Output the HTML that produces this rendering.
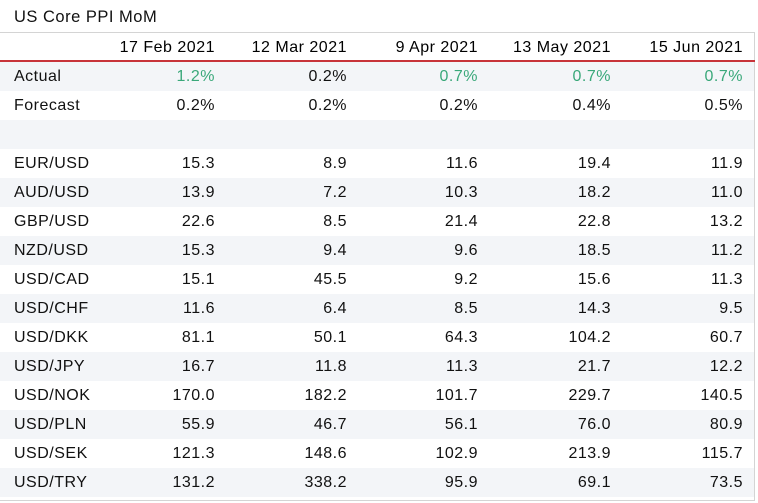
<!DOCTYPE html>
<html><head><meta charset="utf-8"><style>
body{margin:0;width:758px;height:503px;background:#fff;font-family:"Liberation Sans",sans-serif;color:#111;position:relative;overflow:hidden}
.t{position:absolute;font-size:16px;letter-spacing:0.5px;white-space:nowrap;line-height:29px}
.r{text-align:right}
</style></head><body>
<div class="t" style="left:14px;top:3px;font-size:16.5px">US Core PPI MoM</div>
<div style="position:absolute;left:0;top:32px;width:754px;height:467px;border:1px solid #d4d4d4;border-left:none"></div>
<div style="position:absolute;left:0;top:60px;width:755px;height:2px;background:#c8343a"></div>
<div id="tbl"></div>
<script>
const dates=["17 Feb 2021","12 Mar 2021","9 Apr 2021","13 May 2021","15 Jun 2021"];
const actual=["1.2%","0.2%","0.7%","0.7%","0.7%"];
const actualGreen=[true,false,true,true,true];
const forecast=["0.2%","0.2%","0.2%","0.4%","0.5%"];
const pairs=["EUR/USD","AUD/USD","GBP/USD","NZD/USD","USD/CAD","USD/CHF","USD/DKK","USD/JPY","USD/NOK","USD/PLN","USD/SEK","USD/TRY"];
const vals=[
["15.3","8.9","11.6","19.4","11.9"],
["13.9","7.2","10.3","18.2","11.0"],
["22.6","8.5","21.4","22.8","13.2"],
["15.3","9.4","9.6","18.5","11.2"],
["15.1","45.5","9.2","15.6","11.3"],
["11.6","6.4","8.5","14.3","9.5"],
["81.1","50.1","64.3","104.2","60.7"],
["16.7","11.8","11.3","21.7","12.2"],
["170.0","182.2","101.7","229.7","140.5"],
["55.9","46.7","56.1","76.0","80.9"],
["121.3","148.6","102.9","213.9","115.7"],
["131.2","338.2","95.9","69.1","73.5"]];
const colRight=[215,347,478,611,743];
const root=document.getElementById('tbl');
function txt(s,x,y,right,color,name){const d=document.createElement('div');


d.className='t'+(right?' r':'');d.textContent=s;d.style.top=y+'px';
if(right){d.style.left=(x-140)+'px';d.style.width='140px';}else d.style.left=x+'px';
if(color)d.style.color=color;root.appendChild(d);return d;}
dates.forEach((d,i)=>{const e=txt(d,colRight[i],33,true,'#000','header-date');e.style.fontWeight='500';});
const rows=[["Actual",actual],["Forecast",forecast],["",null]].concat(pairs.map((p,i)=>[p,vals[i]]));
rows.forEach((r,ri)=>{const y=62+ri*29;
if(ri%2===0){const bg=document.createElement('div');


bg.style.cssText='position:absolute;left:0;width:754px;height:29px;background:#f3f5f8;top:'+y+'px';root.appendChild(bg);}
if(r[0])txt(r[0],14,y,false,null,'row-label');
if(r[1])r[1].forEach((v,ci)=>{const g=(ri===0&&actualGreen[ci]);txt(v,colRight[ci],y,true,g?'#3aa87a':null,'cell-value');});
});
</script>
</body></html>
